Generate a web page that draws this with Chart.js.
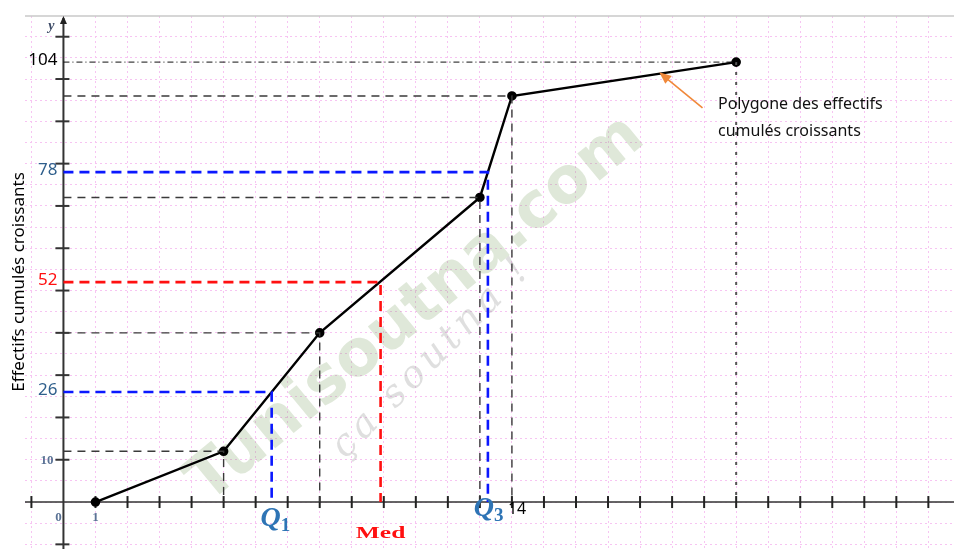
<!DOCTYPE html>
<html>
<head>
<meta charset="utf-8">
<script src="https://cdn.jsdelivr.net/npm/chart.js"></script>
<style>
  html, body { margin: 0; padding: 0; background: #fff; }
  #wrap { width: 954px; height: 549px; position: relative; }
</style>
</head>
<body>
<div id="wrap"><canvas id="chart"></canvas></div>
<script>
// data
const classBounds = [1, 5, 8, 13, 14, 21];
const cumulativeCounts = [0, 12, 40, 72, 96, 104];
const yTickLabels = [10, 26, 52, 78, 104];
const xTickLabels = [0, 1, 14];
const quartileNames = ["Q1", "Med", "Q3"];
const quartileCounts = [26, 52, 78];
const quartileValues = [6.5, 9.9, 13.25];

const BLUE = "#0b18ff";
const RED = "#ff1010";
const GREY = "#3a3a3a";
const LABEL_BLUE = "#2e74b5";

const polygonPoints = classBounds.map((x, i) => ({ x, y: cumulativeCounts[i] }));

// dashed helper lines : horizontal to the y axis then down to the x axis
const helperSets = classBounds.slice(1, 5).map((x, i) => ({
  data: [{ x: 0, y: cumulativeCounts[i + 1] }, { x, y: cumulativeCounts[i + 1] }, { x, y: 0 }],
  borderColor: GREY,
  borderWidth: 1.4,
  borderDash: [8, 6],
  pointRadius: 0,
}));

const quartileSets = quartileValues.map((x, i) => ({
  data: [{ x: 0, y: quartileCounts[i] }, { x, y: quartileCounts[i] }, { x, y: 0 }],
  borderColor: i === 1 ? RED : BLUE,
  borderWidth: 2.6,
  borderDash: [10, 6],
  pointRadius: 0,
}));

const last = polygonPoints.length - 1;
const totalSets = [
  {
    data: [{ x: 0, y: cumulativeCounts[last] }, { x: classBounds[last], y: cumulativeCounts[last] }],
    borderColor: "#111",
    borderWidth: 1,
    borderDash: [6, 3, 1, 3],
    pointRadius: 0,
  },
  {
    data: [{ x: classBounds[last], y: cumulativeCounts[last] }, { x: classBounds[last], y: 0 }],
    borderColor: "#555",
    borderWidth: 2,
    borderDash: [3, 7],
    pointRadius: 0,
  },
];

const polygonSet = {
  data: polygonPoints,
  borderColor: "#000",
  borderWidth: 2.4,
  pointRadius: 3.6,
  pointBackgroundColor: "#000",
  pointBorderColor: "#000",
};

const axesPlugin = {
  id: "axes",
  beforeDatasetsDraw(chart) {
    const { ctx, chartArea, scales } = chart;
    const px = (v) => scales.x.getPixelForValue(v);
    const py = (v) => scales.y.getPixelForValue(v);

    // watermark
    ctx.save();
    ctx.translate(px(4.5), py(-0.5));
    ctx.rotate(-0.69);
    ctx.font = "bold 64px 'DejaVu Sans'";
    ctx.fillStyle = "rgba(120,160,95,0.24)";
    ctx.fillText("Tunisoutna.com", 0, 0);
    ctx.restore();
    ctx.save();
    ctx.translate(px(8.8), py(10));
    ctx.rotate(-0.79);
    ctx.font = "italic 38px 'DejaVu Serif'";
    ctx.letterSpacing = "5px";
    ctx.fillStyle = "rgba(150,150,150,0.3)";
    ctx.fillText("ça soutna !", 0, 0);
    ctx.restore();

    ctx.save();
    // frame line on top
    ctx.strokeStyle = "#c8c8c8";
    ctx.lineWidth = 1.5;
    ctx.beginPath();
    ctx.moveTo(chartArea.left, chartArea.top);
    ctx.lineTo(chartArea.right, chartArea.top);
    ctx.stroke();

    // x axis
    ctx.strokeStyle = "#333";
    ctx.lineWidth = 1.5;
    ctx.beginPath();
    ctx.moveTo(chartArea.left, py(0));
    ctx.lineTo(chartArea.right, py(0));
    ctx.stroke();
    ctx.lineWidth = 2;
    ctx.strokeStyle = "#222";
    for (let i = -1; i <= 27; i++) {
      if (i === 0) continue;
      ctx.beginPath();
      ctx.moveTo(px(i), py(0) - 6);
      ctx.lineTo(px(i), py(0) + 6);
      ctx.stroke();
    }

    // y axis
    ctx.lineWidth = 2;
    ctx.strokeStyle = "#333";
    ctx.beginPath();
    ctx.moveTo(px(0), chartArea.bottom);
    ctx.lineTo(px(0), chartArea.top + 2);
    ctx.stroke();
    ctx.fillStyle = "#222";
    ctx.beginPath();
    ctx.moveTo(px(0), chartArea.top);
    ctx.lineTo(px(0) - 3.5, chartArea.top + 8);
    ctx.lineTo(px(0) + 3.5, chartArea.top + 8);
    ctx.closePath();
    ctx.fill();
    for (let v = -10; v <= 110; v += 10) {
      if (v === 0) continue;
      ctx.beginPath();
      ctx.moveTo(px(0) - 8, py(v));
      ctx.lineTo(px(0) + 6, py(v));
      ctx.stroke();
    }
    ctx.restore();
  },
  afterDraw(chart) {
    const { ctx, scales } = chart;
    const px = (v) => scales.x.getPixelForValue(v);
    const py = (v) => scales.y.getPixelForValue(v);
    ctx.save();

    // y label "y"
    ctx.font = "italic bold 14px 'Liberation Serif'";
    ctx.fillStyle = "#3c4a66";
    ctx.textAlign = "right";
    ctx.textBaseline = "middle";
    ctx.fillText("y", px(0) - 9, 26);

    // y tick labels
    yTickLabels.forEach((v) => {
      if (v === 10) {
        ctx.font = "bold 13px 'Liberation Serif'";
        ctx.fillStyle = "#5b7396";
        ctx.fillText(String(v), px(0) - 10, py(v) + 1);
        return;
      }
      ctx.font = "17px 'Noto Sans'";
      ctx.fillStyle = v === 104 ? "#000" : v === 52 ? RED : "#2f5f8c";
      ctx.fillText(String(v), px(0) - 6, py(v) - 2);
    });

    // x tick labels
    ctx.textAlign = "center";
    ctx.textBaseline = "top";
    xTickLabels.forEach((v) => {
      if (v === 14) {
        ctx.font = "16px 'Noto Sans'";
        ctx.fillStyle = "#000";
        ctx.textAlign = "left";
        ctx.fillText("14", px(v) - 4, py(0) - 1);
        ctx.textAlign = "center";
        return;
      }
      ctx.font = "bold 13px 'Liberation Serif'";
      ctx.fillStyle = "#5b7396";
      ctx.fillText(String(v), px(v) - (v === 0 ? 5 : 0), py(0) + 9);
    });

    // quartile labels
    quartileNames.forEach((name, i) => {
      const x = px(quartileValues[i]);
      if (name === "Med") {
        ctx.save();
        ctx.translate(x, py(0) + 32);
        ctx.scale(1.5, 1);
        ctx.font = "bold 17px 'Liberation Serif'";
        ctx.fillStyle = RED;
        ctx.textAlign = "center";
        ctx.textBaseline = "middle";
        ctx.fillText("Med", 0, 0);
        ctx.restore();
        return;
      }
      const dy = name === "Q1" ? 24 : 14;
      const shift = name === "Q1" ? 9 : 6;
      ctx.fillStyle = LABEL_BLUE;
      ctx.textBaseline = "alphabetic";
      ctx.textAlign = "right";
      ctx.font = "italic bold 28px 'Liberation Serif'";
      ctx.fillText("Q", x + shift, py(0) + dy);
      ctx.textAlign = "left";
      ctx.font = "bold 19px 'Liberation Serif'";
      ctx.fillText(name.slice(1), x + shift, py(0) + dy + 5);
    });

    // rotated axis title
    ctx.save();
    ctx.translate(19, 282);
    ctx.rotate(-Math.PI / 2);
    ctx.font = "17px 'Noto Sans'";
    ctx.fillStyle = "#000";
    ctx.textAlign = "center";
    ctx.textBaseline = "middle";
    ctx.fillText("Effectifs cumulés croissants", 0, 0);
    ctx.restore();

    // legend note with arrow
    ctx.font = "16px 'Noto Sans'";
    ctx.fillStyle = "#111";
    ctx.textAlign = "left";
    ctx.textBaseline = "middle";
    ctx.fillText("Polygone des effectifs", 718, 104);
    ctx.fillText("cumulés croissants", 718, 131);

    const ax = px(18.6), ay = py(101.6);
    const bx = px(19.95), by = py(93.2);
    ctx.strokeStyle = "#f0883a";
    ctx.fillStyle = "#f0883a";
    ctx.lineWidth = 1.6;
    ctx.beginPath();
    ctx.moveTo(bx, by);
    ctx.lineTo(ax + 6, ay + 5);
    ctx.stroke();
    const ang = Math.atan2(ay - by, ax - bx);
    ctx.beginPath();
    ctx.moveTo(ax, ay);
    ctx.lineTo(ax - 13 * Math.cos(ang - 0.4), ay - 13 * Math.sin(ang - 0.4));
    ctx.lineTo(ax - 13 * Math.cos(ang + 0.4), ay - 13 * Math.sin(ang + 0.4));
    ctx.closePath();
    ctx.fill();

    ctx.restore();
  },
};

const integerTicks = (from, to, step) => {
  const t = [];
  for (let v = from; v <= to; v += step) t.push({ value: v });
  return t;
};

new Chart(document.getElementById("chart"), {
  type: "line",
  data: {
    datasets: [...helperSets, ...totalSets, ...quartileSets, polygonSet].map((d) => ({
      ...d,
      fill: false,
      tension: 0,
    })),
  },
  options: {
    responsive: true,
    maintainAspectRatio: false,
    animation: false,
    layout: { autoPadding: false, padding: { left: 25, top: 16, right: 0, bottom: 0 } },
    plugins: { legend: { display: false }, tooltip: { enabled: false } },
    scales: {
      x: {
        type: "linear",
        min: -1.2,
        max: 27.8,
        afterBuildTicks: (axis) => { axis.ticks = integerTicks(-1, 27, 1); },
        afterFit: (axis) => { axis.height = 0; axis.paddingLeft = 0; axis.paddingRight = 0; },
        ticks: { display: false },
        grid: { color: "#f7c4f2", lineWidth: 1, drawTicks: false },
        border: { display: false, dash: [2, 3] },
      },
      y: {
        type: "linear",
        min: -11.1,
        max: 114.9,
        afterBuildTicks: (axis) => { axis.ticks = integerTicks(-10, 110, 5); },
        afterFit: (axis) => { axis.width = 0; axis.paddingTop = 0; axis.paddingBottom = 0; },
        ticks: { display: false },
        grid: { color: "#f7c4f2", lineWidth: 1, drawTicks: false },
        border: { display: false, dash: [2, 3] },
      },
    },
  },
  plugins: [axesPlugin],
});
</script>
</body>
</html>
